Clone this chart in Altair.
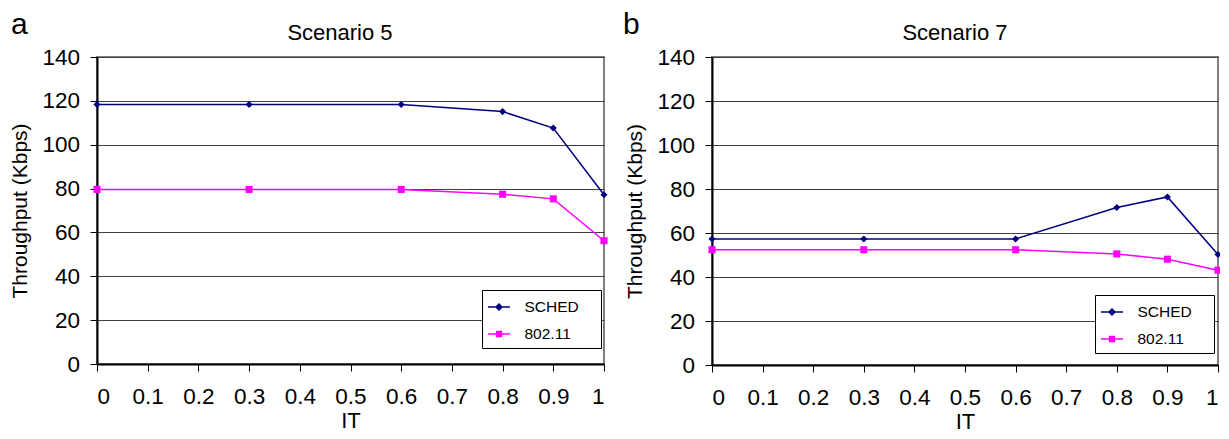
import altair as alt
import pandas as pd

# ---- data ----
it_values = [0, 0.3, 0.6, 0.8, 0.9, 1]
series_names = ["SCHED", "802.11"]
series_colors = ["#000080", "#FF00FF"]

s5_sched = [118.3, 118.3, 118.3, 115.1, 107.6, 77.2]
s5_wifi = [79.6, 79.6, 79.6, 77.4, 75.3, 56.2]
s7_sched = [57.3, 57.3, 57.3, 71.6, 76.4, 50.2]
s7_wifi = [52.4, 52.4, 52.4, 50.5, 48.1, 43.1]

panel_letters = ["a", "b"]
panel_titles = ["Scenario 5", "Scenario 7"]

x_ticks = [0, 0.1, 0.2, 0.3, 0.4, 0.5, 0.6, 0.7, 0.8, 0.9, 1]
y_ticks = [0, 20, 40, 60, 80, 100, 120, 140]

FONT = "Liberation Sans"

# legend symbols: a short line with the marker on it
legend_symbols = [
    "M-1,0H1M0,-0.27L0.27,0L0,0.27L-0.27,0ZM0,-0.12L0.12,0L0,0.12L-0.12,0Z",
    "M-1,0H1M-0.22,-0.22H0.22V0.22H-0.22ZM-0.1,-0.1H0.1V0.1H-0.1Z",
]


def long_table(sched, wifi):
    n = len(it_values)
    return pd.DataFrame({
        "IT": list(it_values) + list(it_values),
        "Throughput": list(sched) + list(wifi),
        "Series": [series_names[0]] * n + [series_names[1]] * n,
    })


def panel(sched, wifi, letter, title, width, height, letter_x, legend_x, legend_y):
    df = long_table(sched, wifi)
    base = alt.Chart(df)
    x = alt.X("IT:Q", scale=alt.Scale(domain=[0, 1], nice=False, zero=False),
              axis=alt.Axis(title="IT", values=x_ticks, format="~g", grid=False,
                            tickSize=7, labelPadding=14, titlePadding=2.5,
                            labelFontSize=22.5, titleFontSize=22))
    y = alt.Y("Throughput:Q", scale=alt.Scale(domain=[0, 140], nice=False),
              axis=alt.Axis(title="Throughput (Kbps)", values=y_ticks, grid=True,
                            tickSize=7, labelPadding=10.5, titlePadding=11.5,
                            labelFontSize=22.5, titleFontSize=21))
    layers = []
    for name, color in zip(series_names, series_colors):
        sub = base.transform_filter(alt.datum.Series == name)
        layers.append(sub.mark_line(color=color, strokeWidth=1.5).encode(x=x, y=y))
    layers.append(
        base.transform_filter(alt.datum.Series == series_names[0])
        .mark_point(shape="diamond", filled=True, size=50, opacity=1, color=series_colors[0])
        .encode(x=x, y=y))
    layers.append(
        base.transform_filter(alt.datum.Series == series_names[1])
        .mark_square(size=50, opacity=1, color=series_colors[1])
        .encode(x=x, y=y))

    leg = alt.Legend(
        title=None, orient="none", legendX=legend_x, legendY=legend_y,
        strokeColor="black", fillColor="white", padding=5,
        symbolSize=484, symbolStrokeWidth=1.5, rowPadding=6,
        labelOffset=13.5, labelFontSize=15.5, labelFont=FONT, labelColor="black",
        labelExpr="datum.label + '    \u200b'",
    )
    layers.append(
        base.transform_filter("false")
        .mark_point(filled=False, opacity=1, strokeWidth=1.5)
        .encode(
            x=x, y=y,
            stroke=alt.Stroke("Series:N", scale=alt.Scale(domain=series_names, range=series_colors), legend=leg),
            shape=alt.Shape("Series:N", scale=alt.Scale(domain=series_names, range=legend_symbols), legend=leg),
        ))

    letter_layer = alt.Chart(pd.DataFrame({"label": [letter]})).mark_text(
        font=FONT, fontSize=30, align="left", baseline="alphabetic", color="black"
    ).encode(x=alt.value(letter_x), y=alt.value(-23), text="label:N")
    title_layer = alt.Chart(pd.DataFrame({"label": [title]})).mark_text(
        font=FONT, fontSize=22, align="center", baseline="alphabetic", color="black"
    ).encode(x=alt.value(243), y=alt.value(-17), text="label:N")
    layers += [letter_layer, title_layer]
    return alt.layer(*layers).properties(width=width, height=height)


left = panel(s5_sched, s5_wifi, panel_letters[0], panel_titles[0], 507, 307, -86, 385, 233)
right = panel(s7_sched, s7_wifi, panel_letters[1], panel_titles[1], 506, 308, -89, 383, 238)

chart = (
    alt.hconcat(left, right, spacing=13)
    .resolve_scale(stroke="independent", shape="independent")
    .resolve_legend(stroke="independent", shape="independent")
    .properties(padding={"left": 0, "top": 1, "right": -3, "bottom": 1}, background="white")
    .configure(font=FONT)
    .configure_axis(labelFont=FONT, titleFont=FONT, labelColor="black", titleColor="black",
                    titleFontWeight="normal", domainColor="black", domainWidth=2,
                    tickColor="black", tickWidth=1, gridColor="#404040", gridWidth=1)
    .configure_view(stroke="#808080", strokeWidth=2)
)

chart.save("out.html", embed_options={"renderer": "svg", "actions": False})
